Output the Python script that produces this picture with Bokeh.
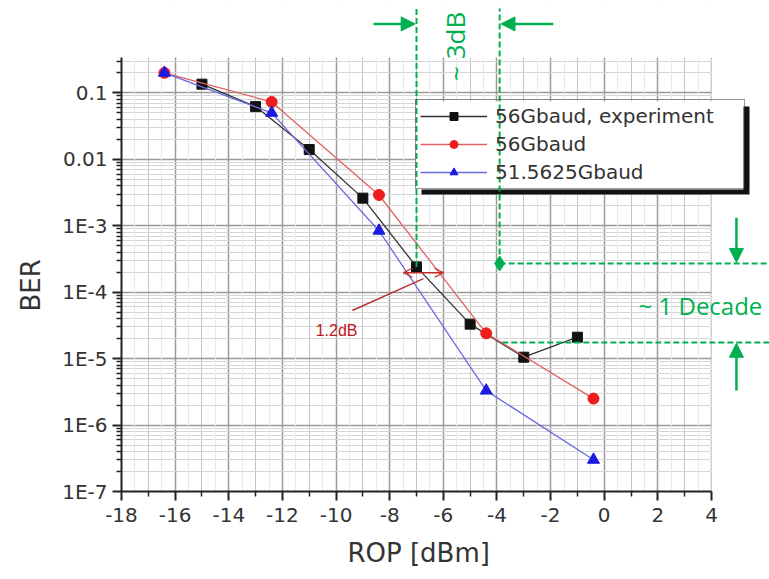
import math
from bokeh.plotting import figure
from bokeh.models import (FixedTicker, CustomJSTickFormatter, Legend, LegendItem, Arrow,
                          NormalHead, OpenHead, Label, BoxAnnotation, Range1d, Grid, Title)
from bokeh.embed import file_html
from bokeh.resources import INLINE

# ---------------- data ----------------
rop_exp = [-15, -13, -11, -9, -7, -5, -3, -1]
ber_exp = [0.135, 0.062, 0.014, 0.0026, 2.4e-4, 3.3e-5, 1.05e-5, 2.1e-5]
rop_sim = [-16.4, -12.4, -8.4, -4.4, -0.4]
ber_56 = [0.2, 0.073, 0.0029, 2.4e-5, 2.5e-6]
ber_51 = [0.2, 0.05, 8.4e-4, 3.3e-6, 3.0e-7]
series_names = ["56Gbaud, experiment", "56Gbaud", "51.5625Gbaud"]

x_ticks = list(range(-18, 5, 2))
x_tick_labels = ["-18", "-16", "-14", "-12", "-10", "-8", "-6", "-4", "-2", "0", "2", "4"]
x_minor = list(range(-17, 4, 2))
x_fine = [v / 2 for v in range(-35, 8, 2)]
y_ticks = [1e-7, 1e-6, 1e-5, 1e-4, 1e-3, 1e-2, 1e-1]
y_tick_labels = ["1E-7", "1E-6", "1E-5", "1E-4", "1E-3", "0.01", "0.1"]
x_plot = (-18, 4)
y_plot = (1e-7, 0.34)
y_minor = [m * 10.0 ** e for e in range(-7, 0) for m in range(2, 10) if m * 10.0 ** e < y_plot[1]]
x_label = "ROP [dBm]"
y_label = "BER"

# annotation anchors (data units)
sens_left_x = -7.0
sens_right_x = -3.9
sens_level = 2.7e-4
floor_level = 1.75e-5
line_top = 1.85
arrow_y = 1.09
far_right_x = 6.3
decade_arrow_x = 4.93
decade_arrow_from = [1.32e-3, 3.3e-6]
decade_arrow_to = [2.8e-4, 1.7e-5]
db3_arrow_from = [-8.6, -1.9]
db3_arrow_to = [-7.05, -3.85]
red_arrow_x = [-7.49, -5.99]
red_arrow_y = 1.96e-4
red_pointer_x = [-9.39, -6.74]
red_pointer_y = [5.3e-5, 1.6e-4]
text_3db = ("~ 3dB", -5.55, 0.5)
text_decade = ("~ 1 Decade", 1.28, 6.3e-5)
text_12db = ("1.2dB", -9.98, 2.64e-5)

GREEN = "#00b050"

# ---------------- layout (pixels) ----------------
W, H = 769, 579
PL, PR, PT, PB = 121, 711, 57, 491     # plot area inside the canvas
x_per_px = (x_plot[1] - x_plot[0]) / (PR - PL)
dec_per_px = (math.log10(y_plot[1]) - math.log10(y_plot[0])) / (PB - PT)
x_end = x_plot[1] + (W - PR) * x_per_px
y_end = 10 ** (math.log10(y_plot[1]) + PT * dec_per_px)

p = figure(width=W, height=H, output_backend="svg", toolbar_location=None,
           y_axis_type="log", x_range=Range1d(x_plot[0], x_end), y_range=Range1d(y_plot[0], y_end),
           min_border_left=PL, min_border_right=0, min_border_top=0, min_border_bottom=H - PB)
p.outline_line_color = None
p.background_fill_color = "white"
p.border_fill_color = "white"

# axes
fmt_code = """
let best = 0, bd = 1e9;
for (let k = 0; k < vals.length; k++) {
  const d = Math.abs(%s - %s);
  if (d < bd) { bd = d; best = k; }
}
return labs[best];
"""
p.xaxis.ticker = FixedTicker(ticks=x_ticks, minor_ticks=x_minor)
p.xaxis.formatter = CustomJSTickFormatter(args=dict(vals=x_ticks, labs=x_tick_labels),
                                          code=fmt_code % ("tick", "vals[k]"))
p.yaxis.ticker = FixedTicker(ticks=y_ticks, minor_ticks=y_minor)
p.yaxis.formatter = CustomJSTickFormatter(args=dict(vals=y_ticks, labs=y_tick_labels),
                                          code=fmt_code % ("Math.log10(tick)", "Math.log10(vals[k])"))
p.xaxis.bounds = x_plot
p.yaxis.bounds = y_plot
for ax in (p.xaxis, p.yaxis):
    ax.axis_line_width = 2
    ax.axis_line_color = "#222222"
    ax.major_tick_out = 9
    ax.major_tick_in = 0
    ax.minor_tick_out = 5
    ax.minor_tick_in = 0
    ax.major_tick_line_width = 2
    ax.major_tick_line_color = "#222222"
    ax.minor_tick_line_width = 1.5
    ax.minor_tick_line_color = "#222222"
    ax.major_label_text_font = "DejaVu Sans"
    ax.major_label_text_font_size = "20px"
    ax.major_label_text_color = "#333333"
    ax.major_label_standoff = 7
p.yaxis.major_label_standoff = 5

# axis titles, placed next to the axes and aligned on the plot area as in the original
title_style = dict(text_font="DejaVu Sans", text_font_size="26px", text_font_style="normal",
                   text_color="#333333", align="left")
p.add_layout(Title(text=x_label, offset=226, standoff=22, vertical_align="bottom", **title_style), "below")
p.add_layout(Title(text=y_label, offset=180, standoff=24, vertical_align="top", **title_style), "left")

# grids
p.xgrid.grid_line_color = "#9a9a9a"
p.xgrid.grid_line_width = 1.5
p.xgrid.minor_grid_line_color = "#c4c4c4"
p.xgrid.minor_grid_line_width = 1
p.ygrid.grid_line_color = "#9a9a9a"
p.ygrid.grid_line_width = 1.5
p.ygrid.minor_grid_line_color = "#d6d6d6"
p.ygrid.minor_grid_line_width = 1
p.add_layout(Grid(dimension=0, ticker=FixedTicker(ticks=x_fine), grid_line_color="#e8e8e8",
                  grid_line_width=1))
# keep the grid inside the plot area (the canvas around it carries the annotations)
p.add_layout(BoxAnnotation(bottom=y_plot[1], fill_color="white", fill_alpha=1.0, line_color=None,
                           level="underlay"))
p.add_layout(BoxAnnotation(left=x_plot[1], fill_color="white", fill_alpha=1.0, line_color=None,
                           level="underlay"))

# series
l_exp = p.line(rop_exp, ber_exp, line_color="#333333", line_width=1.3)
s_exp = p.scatter(rop_exp, ber_exp, marker="square", size=10, fill_color="#111111", line_color="#111111")
l_56 = p.line(rop_sim, ber_56, line_color="#e06262", line_width=1.3)
s_56 = p.scatter(rop_sim, ber_56, marker="circle", size=11, fill_color="#ee1c1c", line_color="#ee1c1c")
l_51 = p.line(rop_sim, ber_51, line_color="#6a6ae0", line_width=1.3)
s_51 = p.scatter(rop_sim, ber_51, marker="triangle", size=12, fill_color="#1a1ae0", line_color="#1a1ae0")

# legend shadow + legend backing (screen units relative to the frame's bottom-left)
LEG_X, LEG_Y, LEG_W, LEG_H = 294, 302, 328, 88
scr = dict(left_units="screen", right_units="screen", top_units="screen", bottom_units="screen",
           fill_alpha=1.0, line_color=None)
p.add_layout(BoxAnnotation(left=LEG_X + 6, right=LEG_X + LEG_W + 6, bottom=LEG_Y - 5,
                           top=LEG_Y + LEG_H - 5, fill_color="#111111", **scr))
p.add_layout(BoxAnnotation(left=LEG_X, right=LEG_X + LEG_W, bottom=LEG_Y, top=LEG_Y + LEG_H,
                           fill_color="white", **scr))

# red 1.2dB annotation
p.add_layout(Arrow(x_start=red_arrow_x[0], x_end=red_arrow_x[1], y_start=red_arrow_y, y_end=red_arrow_y,
                   start=OpenHead(size=9, line_color="#c02828", line_width=1.3),
                   end=OpenHead(size=9, line_color="#c02828", line_width=1.3),
                   line_color="#c02828", line_width=1.3))
p.add_layout(Arrow(x_start=red_pointer_x[0], x_end=red_pointer_x[1], y_start=red_pointer_y[0],
                   y_end=red_pointer_y[1], end=None, line_color="#b83232", line_width=1.5))
p.add_layout(Label(text=text_12db[0], x=text_12db[1], y=text_12db[2], text_align="center",
                   text_baseline="middle", text_font="Liberation Sans", text_font_size="16px",
                   text_color="#c0141c"))

# green annotations (over the legend backing)
dash = dict(end=None, line_color=GREEN, line_width=2, line_dash="6 3")
p.add_layout(Arrow(x_start=sens_left_x, x_end=sens_left_x, y_start=ber_exp[4], y_end=line_top, **dash))
p.add_layout(Arrow(x_start=sens_right_x, x_end=sens_right_x, y_start=sens_level, y_end=line_top, **dash))
p.add_layout(Arrow(x_start=sens_right_x, x_end=far_right_x, y_start=sens_level, y_end=sens_level, **dash))
p.add_layout(Arrow(x_start=sens_right_x + 0.1, x_end=far_right_x, y_start=floor_level, y_end=floor_level, **dash))
p.scatter([sens_right_x], [sens_level], marker="diamond", size=15, fill_color=GREEN, line_color=GREEN)

head = dict(line_color=GREEN, line_width=2.5)
for xs, xe in zip(db3_arrow_from, db3_arrow_to):
    p.add_layout(Arrow(x_start=xs, x_end=xe, y_start=arrow_y, y_end=arrow_y,
                       end=NormalHead(size=14, fill_color=GREEN, line_color=GREEN), **head))
for ys, ye in zip(decade_arrow_from, decade_arrow_to):
    p.add_layout(Arrow(x_start=decade_arrow_x, x_end=decade_arrow_x, y_start=ys, y_end=ye,
                       end=NormalHead(size=14, fill_color=GREEN, line_color=GREEN), **head))

p.add_layout(Label(text=text_3db[0], x=text_3db[1], y=text_3db[2], angle=90, angle_units="deg",
                   text_align="center", text_baseline="middle", text_font="Open Sans",
                   text_font_size="26px", text_color=GREEN))
p.add_layout(Label(text=text_decade[0], x=text_decade[1], y=text_decade[2],
                   text_align="left", text_baseline="middle", text_font="Open Sans",
                   text_font_size="24px", text_color=GREEN))

# legend (transparent body so the dashed guides show through, as in the original)
legend = Legend(items=[LegendItem(label=series_names[0], renderers=[l_exp, s_exp]),
                       LegendItem(label=series_names[1], renderers=[l_56, s_56]),
                       LegendItem(label=series_names[2], renderers=[l_51, s_51])],
                location=(LEG_X, LEG_Y))
legend.label_text_font = "DejaVu Sans"
legend.label_text_font_size = "20px"
legend.label_text_color = "#333333"
legend.border_line_color = "#333333"
legend.border_line_width = 1.5
legend.background_fill_alpha = 0.0
legend.padding = 4
legend.spacing = 4
legend.glyph_width = 67
legend.glyph_height = 20
legend.label_height = 20
legend.label_standoff = 8
legend.label_width = 245
legend.margin = 0
p.add_layout(legend)

open("out.html", "w").write(file_html(p, INLINE))
